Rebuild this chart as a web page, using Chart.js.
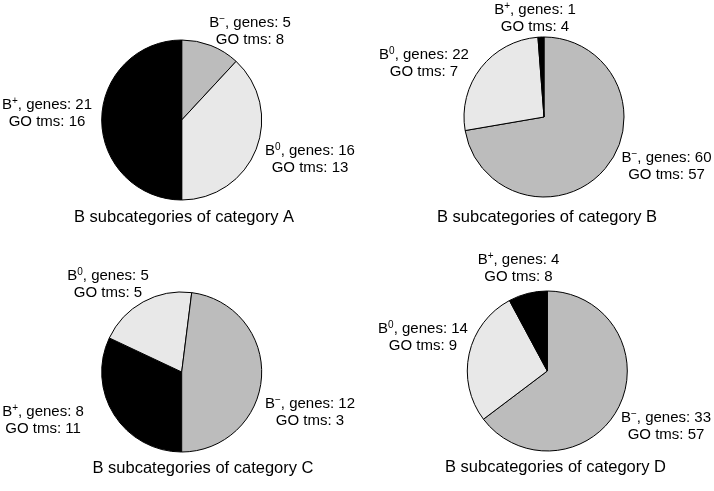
<!DOCTYPE html>
<html>
<head>
<meta charset="utf-8">
<script src="https://cdn.jsdelivr.net/npm/chart.js@4.4.1/dist/chart.umd.min.js"></script>
<style>
  html, body { margin: 0; padding: 0; background: #fff; }
  #wrap { position: relative; width: 714px; height: 491px; background: #fff; }
  #wrap canvas { position: absolute; left: 0; top: 0; }
</style>
</head>
<body>
<div id="wrap">
  <canvas id="cA" width="714" height="491"></canvas>
  <canvas id="cB" width="714" height="491"></canvas>
  <canvas id="cC" width="714" height="491"></canvas>
  <canvas id="cD" width="714" height="491"></canvas>
</div>
<script>
// ---------------- DATA ----------------
const categories = ['A', 'B', 'C', 'D'];
const subcategories = ['B+', 'B0', 'B−'];      // superscript marks: +, 0, −
const superMarks = ['+', '0', '−'];
const genesPlus  = [21, 1, 8, 4];
const genesZero  = [16, 22, 5, 14];
const genesMinus = [5, 60, 12, 33];
const goPlus  = [16, 4, 11, 8];
const goZero  = [13, 7, 5, 9];
const goMinus = [8, 57, 3, 57];

// ---------------- STYLE / LAYOUT ----------------
const sliceColors = { '+': '#000000', '0': '#e8e8e8', '−': '#bcbcbc' };
const FONT = '"Liberation Sans", Arial, Helvetica, sans-serif';
const LABEL_SIZE = 15, SUP_SIZE = 10, TITLE_SIZE = 16.5, LINE_GAP = 17;
const RADIUS = 80;
// pie centres (layout)
const centres = [[181.7, 120], [544, 117], [181.7, 372], [547.3, 371]];
// slice order (indices into subcategory) and start rotation per chart
const sliceOrder = [[2, 1, 0], [2, 1, 0], [0, 1, 2], [2, 1, 0]];
const rotations = [0, 0, 180, 0];
// label anchor offsets from pie centre [dx, dy of first baseline], indexed by subcategory (+, 0, −)
const labelOffsets = [
  [[-134.7, -11.5], [128.3, 35], [68.3, -93]],
  [[-9, -103], [-120, -58.5], [122.5, 45]],
  [[-138.7, 44], [-73.7, -92], [128.3, 36]],
  [[-28.8, -107], [-124.3, -38], [118.7, 51]]
];
const titleOffsets = [[2.3, 102], [3, 105], [21.3, 101], [8.2, 101]];

function valuesFor(k) {
  return {
    genes: [genesPlus[k], genesZero[k], genesMinus[k]],
    go: [goPlus[k], goZero[k], goMinus[k]]
  };
}

const labelPlugin = {
  id: 'pieLabels',
  afterDraw(chart) {
    const k = chart.options.plugins.pieLabels.index;
    const ctx = chart.ctx;
    const arc = chart.getDatasetMeta(0).data[0];
    const cx = arc.x, cy = arc.y;
    const v = valuesFor(k);
    ctx.save();
    ctx.fillStyle = '#000';
    ctx.textBaseline = 'alphabetic';
    for (let s = 0; s < 3; s++) {
      const [dx, dy] = labelOffsets[k][s];
      const x = cx + dx, y = cy + dy;
      const partB = 'B', sup = superMarks[s], rest = ', genes: ' + v.genes[s];
      ctx.font = LABEL_SIZE + 'px ' + FONT;
      const wB = ctx.measureText(partB).width;
      const wR = ctx.measureText(rest).width;
      ctx.font = SUP_SIZE + 'px ' + FONT;
      const wS = ctx.measureText(sup).width;
      const total = wB + wS + wR;
      let x0 = x - total / 2;
      ctx.textAlign = 'left';
      ctx.font = LABEL_SIZE + 'px ' + FONT;
      ctx.fillText(partB, x0, y);
      ctx.font = SUP_SIZE + 'px ' + FONT;
      ctx.fillText(sup, x0 + wB, y - 5);
      ctx.font = LABEL_SIZE + 'px ' + FONT;
      ctx.fillText(rest, x0 + wB + wS, y);
      ctx.textAlign = 'center';
      ctx.fillText('GO tms: ' + v.go[s], x, y + LINE_GAP);
    }
    ctx.font = TITLE_SIZE + 'px ' + FONT;
    ctx.textAlign = 'center';
    ctx.fillText('B subcategories of category ' + categories[k], cx + titleOffsets[k][0], cy + titleOffsets[k][1]);
    ctx.restore();
  }
};

const ids = ['cA', 'cB', 'cC', 'cD'];
const W = 714, H = 491, HALF = 90;
categories.forEach((cat, k) => {
  const v = valuesFor(k);
  const order = sliceOrder[k];
  const [cx, cy] = centres[k];
  new Chart(document.getElementById(ids[k]), {
    type: 'pie',
    data: {
      labels: order.map(i => subcategories[i]),
      datasets: [{
        data: order.map(i => v.genes[i]),
        backgroundColor: order.map(i => sliceColors[superMarks[i]]),
        borderColor: '#000',
        borderWidth: 1
      }]
    },
    options: {
      responsive: false,
      animation: false,
      devicePixelRatio: 1,
      events: [],
      rotation: rotations[k],
      radius: RADIUS,
      layout: {
        padding: { left: cx - HALF, right: W - cx - HALF, top: cy - HALF, bottom: H - cy - HALF }
      },
      plugins: {
        legend: { display: false },
        tooltip: { enabled: false },
        title: { display: false },
        pieLabels: { index: k }
      }
    },
    plugins: [labelPlugin]
  });
});
</script>
</body>
</html>
